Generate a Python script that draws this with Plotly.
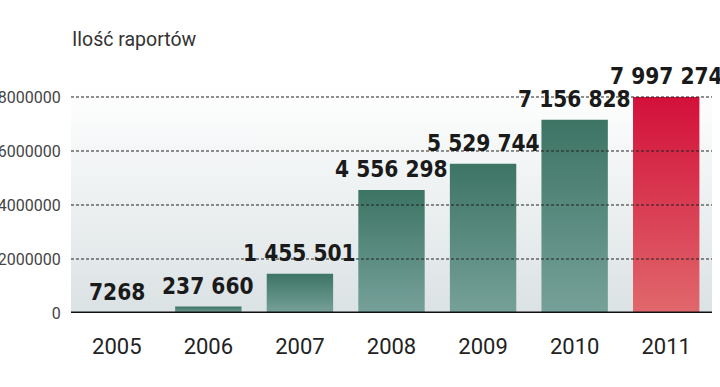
import plotly.graph_objects as go

years = ["2005", "2006", "2007", "2008", "2009", "2010", "2011"]
reports = [7268, 237660, 1455501, 4556298, 5529744, 7156828, 7997274]
labels = ["7268", "237 660", "1 455 501", "4 556 298", "5 529 744", "7 156 828", "7 997 274"]
grid_vals = [2000000, 4000000, 6000000, 8000000]
tick_vals = [0, 2000000, 4000000, 6000000, 8000000]
tick_text = ["0", "2000000", "4000000", "6000000", "8000000"]

green = ["#76a19a", "#3d7464"]
red = ["#e0686c", "#d3103a"]
bar_w = 0.725
ymax = 8444000

fig = go.Figure()

# plot background gradient
fig.add_trace(go.Scatter(
    x=[-0.5, 6.5, 6.5, -0.5, -0.5], y=[0, 0, ymax, ymax, 0],
    mode="lines", line=dict(width=0), fill="toself",
    fillgradient=dict(type="vertical", colorscale=[[0, "#dbe2e4"], [1, "#ffffff"]]),
    hoverinfo="skip", showlegend=False))

for i, (yr, v) in enumerate(zip(years, reports)):
    cs = red if yr == "2011" else green
    x0, x1 = i - bar_w / 2, i + bar_w / 2
    fig.add_trace(go.Scatter(
        x=[x0, x1, x1, x0, x0], y=[0, 0, v, v, 0],
        mode="lines", line=dict(width=0), fill="toself",
        fillgradient=dict(type="vertical", colorscale=[[0, cs[0]], [1, cs[1]]]),
        hoverinfo="skip", showlegend=False))

for i, (v, t) in enumerate(zip(reports, labels)):
    fig.add_annotation(x=i, y=v, text=t, showarrow=False, yanchor="bottom",
                       yshift=6, font=dict(family="DejaVu Sans Condensed",
                                           size=22.5, color="#1a1a1a", weight="bold"))

for g in grid_vals:
    fig.add_shape(type="line", xref="paper", x0=0, x1=1, yref="y", y0=g, y1=g,
                  line=dict(color="#222222", width=1, dash="3px,2px"), layer="above")

fig.add_shape(type="line", xref="paper", x0=0, x1=1, yref="y", y0=0, y1=0,
              line=dict(color="#111111", width=3), layer="above")

fig.add_annotation(xref="paper", yref="paper", x=0, y=1, yanchor="bottom", xanchor="left",
                   yshift=32, xshift=-1, text="Ilość raportów", showarrow=False,
                   font=dict(family="Roboto", size=19.5, color="#333333"))

fig.update_layout(
    width=720, height=387,
    margin=dict(l=71, r=8, t=85, b=74),
    paper_bgcolor="white", plot_bgcolor="rgba(0,0,0,0)",
    showlegend=False,
    xaxis=dict(range=[-0.5, 6.5], tickmode="array", tickvals=list(range(len(years))),
               ticktext=years, showgrid=False, zeroline=False, showline=False,
               automargin=False,
               tickfont=dict(family="Roboto", size=22, color="#222222"),
               ticks="outside", ticklen=14, tickcolor="rgba(0,0,0,0)"),
    yaxis=dict(range=[0, ymax], tickmode="array", tickvals=tick_vals, ticktext=tick_text,
               showgrid=False, zeroline=False, showline=False,
               automargin=False,
               tickfont=dict(family="Roboto", size=16, color="#444444"),
               ticks="outside", ticklen=6, tickcolor="rgba(0,0,0,0)"),
)

fig.write_html("out.html", config={"displayModeBar": False},
               post_script="document.body.style.margin='0';")
